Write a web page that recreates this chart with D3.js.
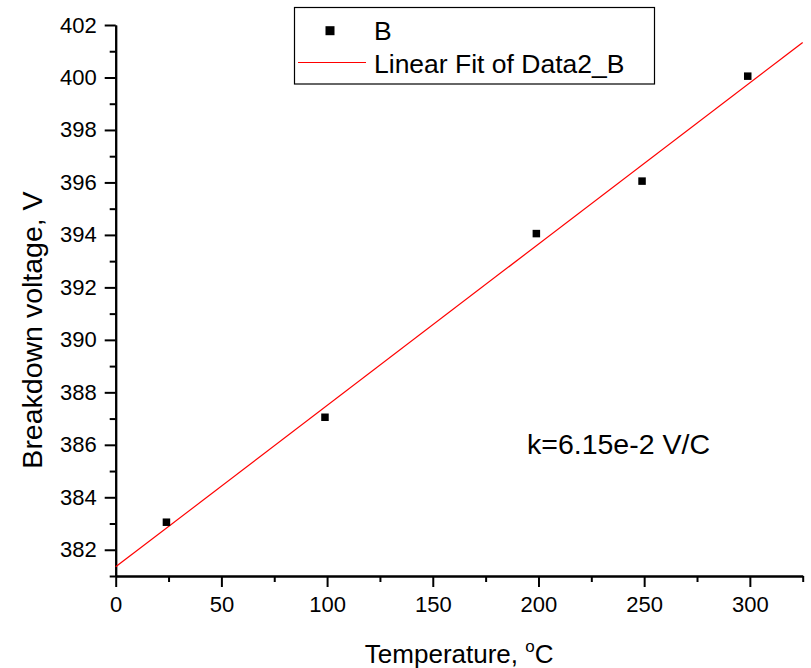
<!DOCTYPE html>
<html>
<head>
<meta charset="utf-8">
<script src="https://cdn.jsdelivr.net/npm/d3@7"></script>
<style>
  body { margin: 0; background: #fff; }
  svg { display: block; font-family: "Liberation Sans", Arial, sans-serif; }
  .axis path, .axis line { stroke: #000; stroke-width: 2; }
  .axis text { fill: #000; font-size: 22px; }
</style>
</head>
<body>
<div id="chart"></div>
<script>
// data
const temps = [24, 99, 199, 249, 299];
const volts = [383.05, 387.05, 394.05, 396.05, 400.05];
const xMajor = [0, 50, 100, 150, 200, 250, 300];
const xMinor = [25, 75, 125, 175, 225, 275, 325];
const yMajor = [382, 384, 386, 388, 390, 392, 394, 396, 398, 400, 402];
const yMinor = [381, 383, 385, 387, 389, 391, 393, 395, 397, 399, 401];
const seriesName = "B";
const fitName = "Linear Fit of Data2_B";
const slopeText = "k=6.15e-2 V/C";

const width = 811, height = 668;
const svg = d3.select("#chart").append("svg")
  .attr("width", width)
  .attr("height", height);

const x = d3.scaleLinear().domain([0, 325]).range([115.7, 802.7]);
const y = d3.scaleLinear().domain([381, 402]).range([576, 25]);

// minor ticks first, then the major axis on top
svg.append("g").attr("class", "axis")
  .attr("transform", `translate(0,${y(381)})`)
  .call(d3.axisBottom(x).tickValues(xMinor).tickSize(6).tickSizeOuter(0).tickFormat(""));
svg.append("g").attr("class", "axis")
  .attr("transform", `translate(0,${y(381)})`)
  .call(d3.axisBottom(x).tickValues(xMajor).tickSize(11).tickSizeOuter(0).tickPadding(9));

svg.append("g").attr("class", "axis")
  .attr("transform", `translate(${x(0)},0)`)
  .call(d3.axisLeft(y).tickValues(yMinor).tickSize(6).tickSizeOuter(0).tickFormat(""));
svg.append("g").attr("class", "axis")
  .attr("transform", `translate(${x(0)},0)`)
  .call(d3.axisLeft(y).tickValues(yMajor).tickSize(11).tickSizeOuter(0).tickPadding(8));

// least squares fit of the points
const mx = d3.mean(temps), my = d3.mean(volts);
let sxy = 0, sxx = 0;
temps.forEach((t, i) => {
  sxy += (t - mx) * (volts[i] - my);
  sxx += (t - mx) * (t - mx);
});
const slope = sxy / sxx;
const icpt = my - slope * mx;
const fitX = x.domain();

svg.append("line")
  .attr("x1", x(fitX[0])).attr("y1", y(icpt + slope * fitX[0]))
  .attr("x2", x(fitX[1])).attr("y2", y(icpt + slope * fitX[1]))
  .attr("stroke", "#ff0000")
  .attr("stroke-width", 1.2);

const ms = 7.5;
svg.append("g").selectAll("rect")
  .data(temps)
  .enter().append("rect")
  .attr("x", (d) => x(d) - ms / 2)
  .attr("y", (d, i) => y(volts[i]) - ms / 2)
  .attr("width", ms)
  .attr("height", ms)
  .attr("fill", "#000");

// axis titles
svg.append("text")
  .attr("x", x(162.5))
  .attr("y", 663)
  .attr("text-anchor", "middle")
  .style("font-size", "26px")
  .text("Temperature, ")
  .append("tspan")
  .attr("dy", -11)
  .style("font-size", "17px")
  .text("o")
  .select(function () { return this.parentNode; })
  .append("tspan")
  .attr("dy", 11)
  .text("C");

svg.append("text")
  .attr("transform", "translate(42,330) rotate(-90)")
  .attr("text-anchor", "middle")
  .style("font-size", "28.5px")
  .text("Breakdown voltage, V");

// annotation
svg.append("text")
  .attr("x", 527)
  .attr("y", 454)
  .style("font-size", "28.5px")
  .text(slopeText);

// legend
const lg = svg.append("g");
lg.append("rect")
  .attr("x", 294.5).attr("y", 7.5)
  .attr("width", 360).attr("height", 76.5)
  .attr("fill", "#fff")
  .attr("stroke", "#000")
  .attr("stroke-width", 1.2);
lg.append("rect")
  .attr("x", 330 - 4.5).attr("y", 30.7 - 4.5)
  .attr("width", 9).attr("height", 9)
  .attr("fill", "#000");
lg.append("text")
  .attr("x", 374).attr("y", 39.5)
  .style("font-size", "26.5px")
  .text(seriesName);
lg.append("line")
  .attr("x1", 298).attr("x2", 366)
  .attr("y1", 62.5).attr("y2", 62.5)
  .attr("stroke", "#ff0000")
  .attr("stroke-width", 1.2);
lg.append("text")
  .attr("x", 374).attr("y", 73)
  .style("font-size", "26.5px")
  .text(fitName);
</script>
</body>
</html>
